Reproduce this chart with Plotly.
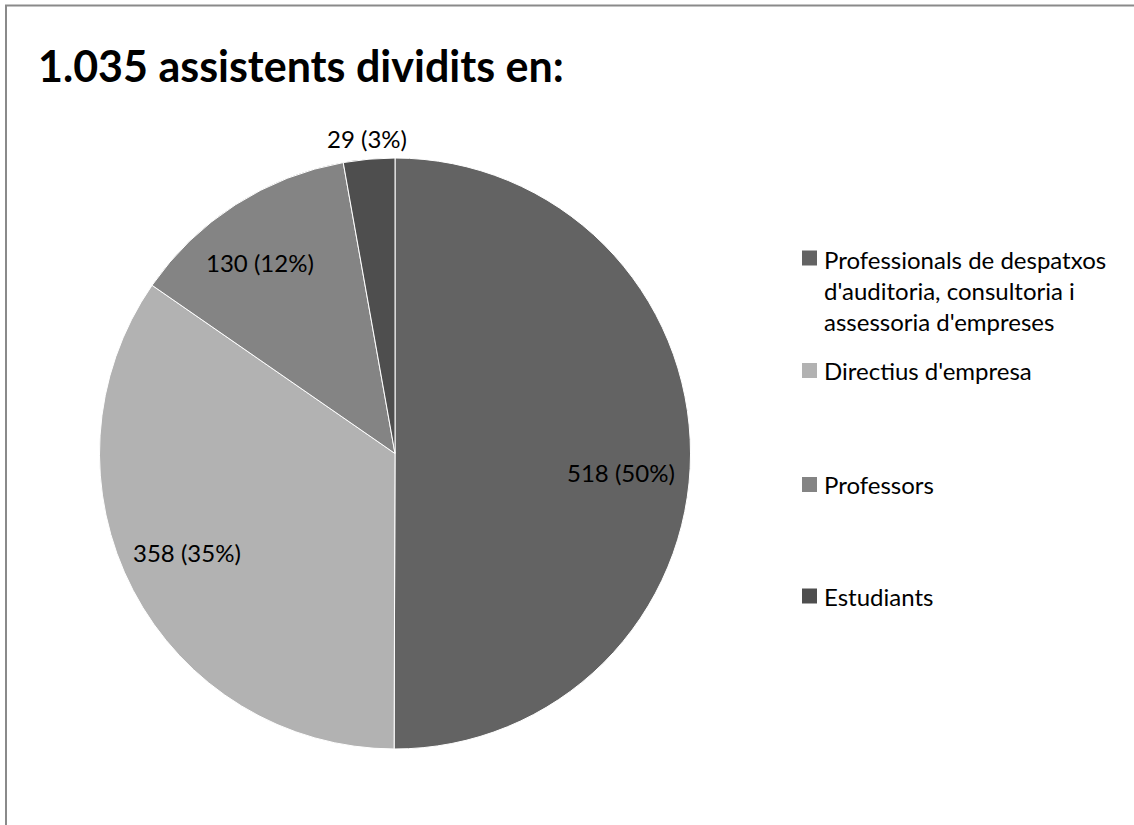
import math
import textwrap
import plotly.graph_objects as go

# ---- data ----
categories = [
    "Professionals de despatxos d'auditoria, consultoria i assessoria d'empreses",
    "Directius d'empresa",
    "Professors",
    "Estudiants",
]
values = [518, 358, 130, 29]
percent_labels = [50, 35, 12, 3]  # percentages as printed on the chart
title_text = "1.035 assistents dividits en:"

# ---- styles ----
colors = ["#636363", "#b2b2b2", "#848484", "#4e4e4e"]
FONT = "Lato, 'Open Sans', sans-serif"
W, H = 1134, 825
# label placement style: distance (fraction of radius) and small angular nudge (deg)
label_radius = [0.768, 0.78, 0.793, 1.07]
label_angle_nudge = [4.7, 2.1, -2.5, 0.0]

slice_text = [f"{v} ({p}%)" for v, p in zip(values, percent_labels)]

# pie geometry (pixels)
cx, cy, R = 395, 453.5, 295.5

fig = go.Figure(
    go.Pie(
        labels=categories,
        values=values,
        text=slice_text,
        textinfo="none",
        sort=False,
        direction="clockwise",
        rotation=0,
        marker=dict(colors=colors, line=dict(color="#ffffff", width=1)),
        showlegend=False,
        hovertemplate="%{label}<br>%{text}<extra></extra>",
        domain=dict(
            x=[(cx - R) / W, (cx + R) / W],
            y=[1 - (cy + R) / H, 1 - (cy - R) / H],
        ),
    )
)

annotations = []

# ---- slice labels placed along each slice bisector (clockwise from 12 o'clock, like the pie) ----
total = sum(values)
cum = 0
for v, txt, rf, nudge in zip(values, slice_text, label_radius, label_angle_nudge):
    mid = (cum + v / 2) / total * 2 * math.pi + math.radians(nudge)
    cum += v
    r = R * rf
    px = cx + r * math.sin(mid)
    py = cy - r * math.cos(mid)
    annotations.append(dict(
        xref="paper", yref="paper", x=px / W, y=1 - py / H,
        xanchor="center", yanchor="middle", showarrow=False, text=txt,
        font=dict(family=FONT, size=24, color="#000000"),
    ))

# ---- legend drawn as squares + text ----
legend_x_square = 802
legend_sq = 15
legend_x_text = 822
legend_first_line_centers = [258, 370.5, 484.5, 596]
line_h = 32

shapes = [
    # outer frame of the chart area
    dict(type="rect", xref="paper", yref="paper",
         x0=6 / W, x1=1.05, y0=-0.05, y1=1 - 5.5 / H,
         line=dict(color="#8a8a8a", width=2), fillcolor="rgba(0,0,0,0)", layer="below"),
]
for cat, col, yc in zip(categories, colors, legend_first_line_centers):
    lines = textwrap.wrap(cat, 26)
    shapes.append(dict(type="rect", xref="paper", yref="paper",
                       x0=legend_x_square / W, x1=(legend_x_square + legend_sq) / W,
                       y0=1 - (yc + legend_sq / 2) / H, y1=1 - (yc - legend_sq / 2) / H,
                       line=dict(width=0), fillcolor=col))
    block_center = yc + (len(lines) - 1) * line_h / 2
    annotations.append(dict(
        xref="paper", yref="paper", x=legend_x_text / W, y=1 - block_center / H,
        xanchor="left", yanchor="middle", align="left", showarrow=False,
        text="<br>".join(lines),
        font=dict(family=FONT, size=24, color="#000000"),
    ))

fig.update_layout(
    width=W, height=H,
    margin=dict(l=0, r=0, t=0, b=0),
    paper_bgcolor="#ffffff",
    plot_bgcolor="#ffffff",
    title=dict(
        text=f"<b>{title_text}</b>",
        font=dict(family=FONT, size=43, color="#000000"),
        xref="container", yref="container",
        x=38 / W, xanchor="left",
        y=1 - 67 / H, yanchor="middle",
    ),
    shapes=shapes,
    annotations=annotations,
)

fig.write_html("out.html", config={"displayModeBar": False},
               post_script="document.body.style.margin='0';")
